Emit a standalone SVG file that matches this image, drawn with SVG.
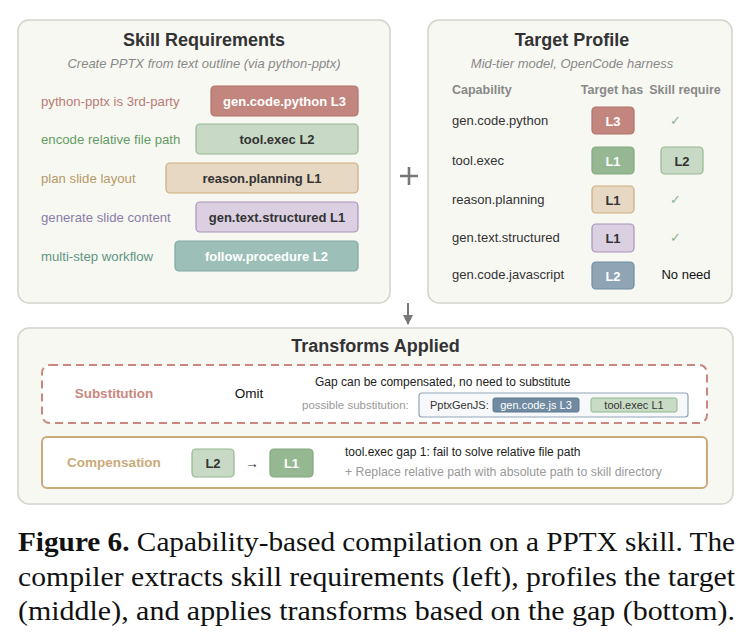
<svg xmlns="http://www.w3.org/2000/svg" width="753" height="641" viewBox="0 0 753 641">
<defs>
<style>
text{font-family:"Liberation Sans",Arial,sans-serif;}
.panel{fill:#f8f8f3;stroke:#d4d4cb;stroke-width:1.5;}
.title{font-size:18px;font-weight:bold;fill:#333;text-anchor:middle;}
.sub{font-size:13px;font-style:italic;fill:#888;text-anchor:middle;}
.lbl{font-size:13.2px;}
.bt{font-size:13px;font-weight:bold;text-anchor:middle;}
.w{fill:#fff;}
.d{fill:#333;}
.red{fill:#c3867f;stroke:#b0736b;stroke-width:1.2;}
.grn{fill:#c8d9c5;stroke:#94b78f;stroke-width:1.2;}
.grnd{fill:#95b893;stroke:#82a87f;stroke-width:1.2;}
.tan{fill:#e6d8c3;stroke:#d0ab7c;stroke-width:1.2;}
.pur{fill:#dad0e1;stroke:#a892b9;stroke-width:1.2;}
.teal{fill:#9cbfb8;stroke:#7fa9a1;stroke-width:1.2;}
.blu{fill:#8fa5b6;stroke:#6f8ca1;stroke-width:1.2;}
.hdr{font-size:12.5px;font-weight:bold;fill:#888;}
.cap{font-size:13px;fill:#333;}
.chk{font-size:13px;fill:#8ab58a;text-anchor:middle;}
.sm{font-size:12px;}
.serif{font-family:"Liberation Serif","Times New Roman",serif;font-size:28px;fill:#111;}
</style>
<marker id="ah" viewBox="0 0 10 10" refX="9" refY="5" markerWidth="5" markerHeight="5" orient="auto" markerUnits="strokeWidth">
<path d="M0,0 L10,5 L0,10 z" fill="#777"/>
</marker>
</defs>
<rect width="753" height="641" fill="#fff"/>

<g id="skill-requirements">
<rect class="panel" x="18" y="20" width="372" height="283" rx="11"/>
<text class="title" x="204" y="46">Skill Requirements</text>
<text class="sub" x="204" y="68">Create PPTX from text outline (via python-pptx)</text>
<g id="req-python">
<text class="lbl" x="41" y="106" fill="#b97c74">python-pptx is 3rd-party</text>
<rect class="red" x="211" y="86" width="147" height="30" rx="4"/>
<text class="bt w" x="284.5" y="106">gen.code.python L3</text>
</g>
<g id="req-tool">
<text class="lbl" x="41" y="144" fill="#639c63">encode relative file path</text>
<rect class="grn" x="196" y="124" width="162" height="30" rx="4"/>
<text class="bt d" x="277" y="144">tool.exec L2</text>
</g>
<g id="req-reason">
<text class="lbl" x="41" y="183" fill="#b69a68">plan slide layout</text>
<rect class="tan" x="166" y="163" width="192" height="30" rx="4"/>
<text class="bt d" x="262" y="183">reason.planning L1</text>
</g>
<g id="req-text">
<text class="lbl" x="41" y="222" fill="#8a7ca8">generate slide content</text>
<rect class="pur" x="196" y="202" width="162" height="30" rx="4"/>
<text class="bt d" x="277" y="222">gen.text.structured L1</text>
</g>
<g id="req-follow">
<text class="lbl" x="41" y="261" fill="#5f9484">multi-step workflow</text>
<rect class="teal" x="175" y="241" width="183" height="30" rx="4"/>
<text class="bt w" x="266.5" y="261">follow.procedure L2</text>
</g>
</g>

<g id="target-profile">
<rect class="panel" x="428" y="20" width="304" height="283" rx="11"/>
<text class="title" x="572" y="46">Target Profile</text>
<text class="sub" x="572" y="68">Mid-tier model, OpenCode harness</text>
<text class="hdr" x="452" y="94">Capability</text>
<text class="hdr" x="612" y="94" text-anchor="middle" font-size="11.5">Target has</text>
<text class="hdr" x="685" y="94" text-anchor="middle" font-size="11.5">Skill require</text>
<g id="tp-python">
<text class="cap" x="452" y="125">gen.code.python</text>
<rect class="red" x="592" y="107" width="42" height="27" rx="4"/>
<text class="bt w" x="613" y="125.5">L3</text>
<text class="chk" x="675" y="125">✓</text>
</g>
<g id="tp-tool">
<text class="cap" x="452" y="165">tool.exec</text>
<rect class="grnd" x="592" y="147" width="42" height="27" rx="4"/>
<text class="bt w" x="613" y="165.5">L1</text>
<rect class="grn" x="661" y="147" width="42" height="27" rx="4"/>
<text class="bt d" x="682" y="165.5">L2</text>
</g>
<g id="tp-reason">
<text class="cap" x="452" y="204">reason.planning</text>
<rect class="tan" x="592" y="186" width="42" height="27" rx="4"/>
<text class="bt d" x="613" y="204.5">L1</text>
<text class="chk" x="675" y="204">✓</text>
</g>
<g id="tp-text">
<text class="cap" x="452" y="242">gen.text.structured</text>
<rect class="pur" x="592" y="224" width="42" height="28" rx="4"/>
<text class="bt d" x="613" y="243">L1</text>
<text class="chk" x="675" y="242">✓</text>
</g>
<g id="tp-js">
<text class="cap" x="452" y="279">gen.code.javascript</text>
<rect class="blu" x="592" y="262" width="42" height="27" rx="4"/>
<text class="bt w" x="613" y="280.5">L2</text>
<text x="686" y="279" font-size="13" fill="#111" text-anchor="middle">No need</text>
</g>
</g>

<g id="connectors">
<path d="M400,176 H418 M409,167 V185" stroke="#777" stroke-width="2.6" fill="none"/>
<line x1="408" y1="303" x2="408" y2="324" stroke="#777" stroke-width="2" marker-end="url(#ah)"/>
</g>

<g id="transforms">
<rect class="panel" x="18" y="328" width="715" height="176" rx="11"/>
<text class="title" x="375.5" y="352">Transforms Applied</text>
<g id="substitution">
<rect x="42" y="365" width="665" height="58" rx="8" fill="#fff" stroke="#c9877f" stroke-width="2" stroke-dasharray="8,5"/>
<text x="114" y="398" font-size="13.5" font-weight="bold" fill="#c9877f" text-anchor="middle">Substitution</text>
<text x="249" y="398" font-size="13.5" fill="#111" text-anchor="middle">Omit</text>
<text class="sm" x="315" y="386" fill="#222">Gap can be compensated, no need to substitute</text>
<text x="302" y="409" font-size="11.5" fill="#999">possible substitution:</text>
<rect x="419" y="393" width="269" height="24" rx="3" fill="#f6f8fa" stroke="#8fa5b6" stroke-width="1.2"/>
<text x="430" y="409" font-size="11" fill="#333">PptxGenJS:</text>
<rect x="493" y="398" width="86" height="14" rx="2" fill="#6f8aa1" stroke="#5f7a90" stroke-width="1"/>
<text x="536" y="409" font-size="11" fill="#fff" text-anchor="middle">gen.code.js L3</text>
<rect x="591" y="398" width="86" height="14" rx="2" fill="#c8dcc5" stroke="#8fb88b" stroke-width="1"/>
<text x="634" y="409" font-size="11" fill="#333" text-anchor="middle">tool.exec L1</text>
</g>
<g id="compensation">
<rect x="42" y="437" width="665" height="51" rx="5" fill="#fff" stroke="#cbaa7a" stroke-width="2"/>
<text x="114" y="467" font-size="13.5" font-weight="bold" fill="#cbaa7a" text-anchor="middle">Compensation</text>
<rect class="grn" x="192" y="449" width="42" height="28" rx="4"/>
<text class="bt d" x="213" y="468">L2</text>
<text x="252" y="468" font-size="14" fill="#333" text-anchor="middle">→</text>
<rect class="grnd" x="270" y="449" width="43" height="28" rx="4"/>
<text class="bt w" x="291.5" y="468">L1</text>
<text class="sm" x="345" y="456" fill="#222">tool.exec gap 1: fail to solve relative file path</text>
<text x="345" y="476" font-size="12.3" fill="#999">+  Replace relative path with absolute path to skill directory</text>
</g>
</g>

<g id="caption">
<text class="serif" x="18" y="551" textLength="717" lengthAdjust="spacingAndGlyphs"><tspan font-weight="bold">Figure 6.</tspan> Capability-based compilation on a PPTX skill. The</text>
<text class="serif" x="18" y="586" textLength="717" lengthAdjust="spacingAndGlyphs">compiler extracts skill requirements (left), profiles the target</text>
<text class="serif" x="18" y="620" textLength="717" lengthAdjust="spacingAndGlyphs">(middle), and applies transforms based on the gap (bottom).</text>
</g>
</svg>
